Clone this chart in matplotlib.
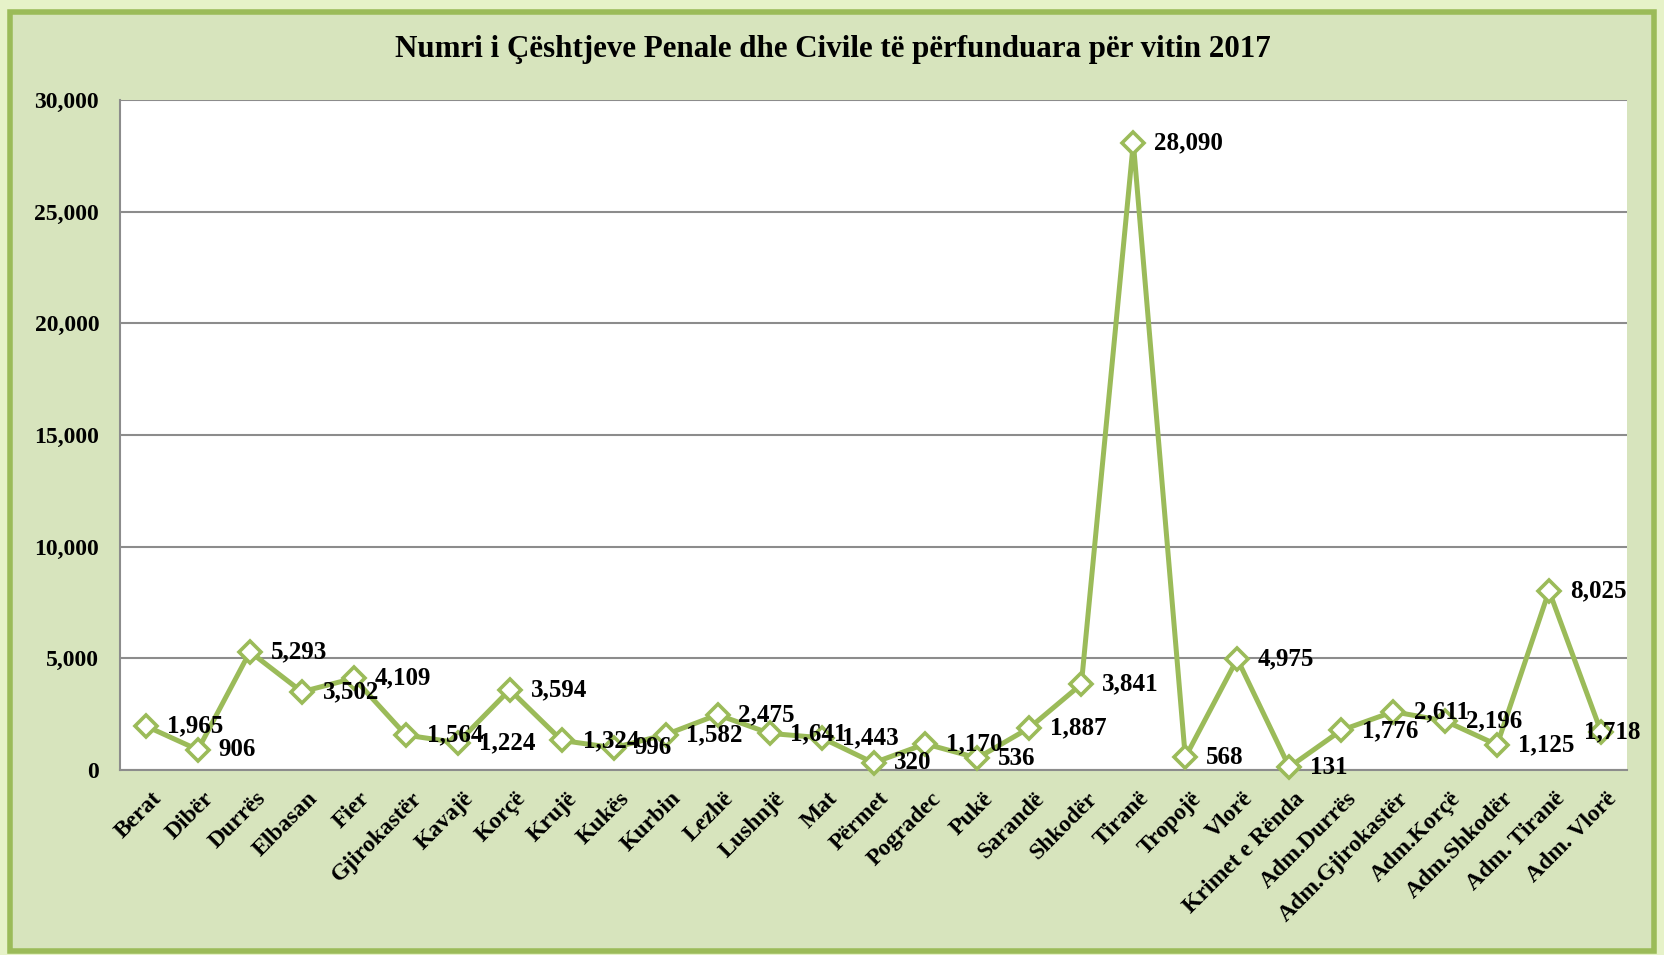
import numpy as np
import matplotlib
matplotlib.use("Agg")
import matplotlib.pyplot as plt
from matplotlib.patches import Rectangle
from matplotlib.ticker import FuncFormatter
import matplotlib.transforms as mtransforms

### chart data
categories = ['Berat', 'Dibër', 'Durrës', 'Elbasan', 'Fier', 'Gjirokastër', 'Kavajë',
              'Korçë', 'Krujë', 'Kukës', 'Kurbin', 'Lezhë', 'Lushnjë', 'Mat', 'Përmet',
              'Pogradec', 'Pukë', 'Sarandë', 'Shkodër', 'Tiranë', 'Tropojë', 'Vlorë',
              'Krimet e Rënda', 'Adm.Durrës', 'Adm.Gjirokastër', 'Adm.Korçë',
              'Adm.Shkodër', 'Adm. Tiranë', 'Adm. Vlorë']
values = [1965, 906, 5293, 3502, 4109, 1564, 1224, 3594, 1324, 996, 1582, 2475, 1641,
          1443, 320, 1170, 536, 1887, 3841, 28090, 568, 4975, 131, 1776, 2611, 2196,
          1125, 8025, 1718]
yticks = [0, 5000, 10000, 15000, 20000, 25000, 30000]
title = 'Numri i Çështjeve Penale dhe Civile të përfunduara për vitin 2017'

green = '#9bbb59'
panel = '#d7e4bd'
outside = '#e6f2c8'

plt.rcParams['font.family'] = ['Liberation Serif', 'DejaVu Serif']
plt.rcParams['font.weight'] = 'bold'

fig = plt.figure(figsize=(16.64, 9.55), dpi=100)
fig.patch.set_facecolor(outside)

### panel with green border (behind the axes)
W, H = 1664, 955
fig.patches.append(Rectangle((10 / W, 4 / H), (W - 20) / W, (H - 16) / H,
                             transform=fig.transFigure, facecolor=panel,
                             edgecolor=green, linewidth=4, zorder=-5))

ax = fig.add_axes([120 / W, 1 - 770 / H, (1627 - 120) / W, (770 - 100) / H])
ax.set_facecolor('white')

x = np.arange(len(categories))
ax.plot(x, values, color=green, linewidth=3.6, marker='D', markersize=11,
        markerfacecolor='white', markeredgecolor=green, markeredgewidth=2.6,
        zorder=3, clip_on=False)

### value labels right of the points, last one pulled back inside the plot
for i, (xi, v) in enumerate(zip(x, values)):
    dx = -12 if i == len(values) - 1 else 15
    ax.annotate(f'{v:,}', (xi, v), xytext=(dx, 0), textcoords='offset points',
                ha='left', va='center', fontsize=18, fontweight='bold', zorder=4)

ax.set_xlim(-0.5, len(categories) - 0.5)
ax.set_ylim(0, 30000)
ax.set_yticks(yticks)
ax.yaxis.set_major_formatter(FuncFormatter(lambda v, p: f'{int(v):,}'))
ax.grid(axis='y', color='#8c8c8c', linewidth=1.5)
ax.set_axisbelow(True)
for s in ['top', 'right']:
    ax.spines[s].set_visible(False)
for s in ['left', 'bottom']:
    ax.spines[s].set_color('#8c8c8c')
    ax.spines[s].set_linewidth(1.5)

ax.tick_params(axis='y', length=0, pad=15, labelsize=17)
ax.tick_params(axis='x', length=0, pad=13, labelsize=17)
ax.set_xticks(x)
ax.set_xticklabels(categories, rotation=45, ha='right', va='top', rotation_mode='anchor')
shift = mtransforms.ScaledTranslation(5 / 100, 0, fig.dpi_scale_trans)
for lab in ax.get_xticklabels():
    lab.set_transform(lab.get_transform() + shift)
for lab in ax.get_yticklabels():
    lab.set_fontweight('bold')

fig.text(833 / W, 1 - 49 / H, title, ha='center', va='center', fontsize=22.3,
         fontweight='bold')

fig.savefig('out.png', dpi=100, facecolor=fig.get_facecolor())
